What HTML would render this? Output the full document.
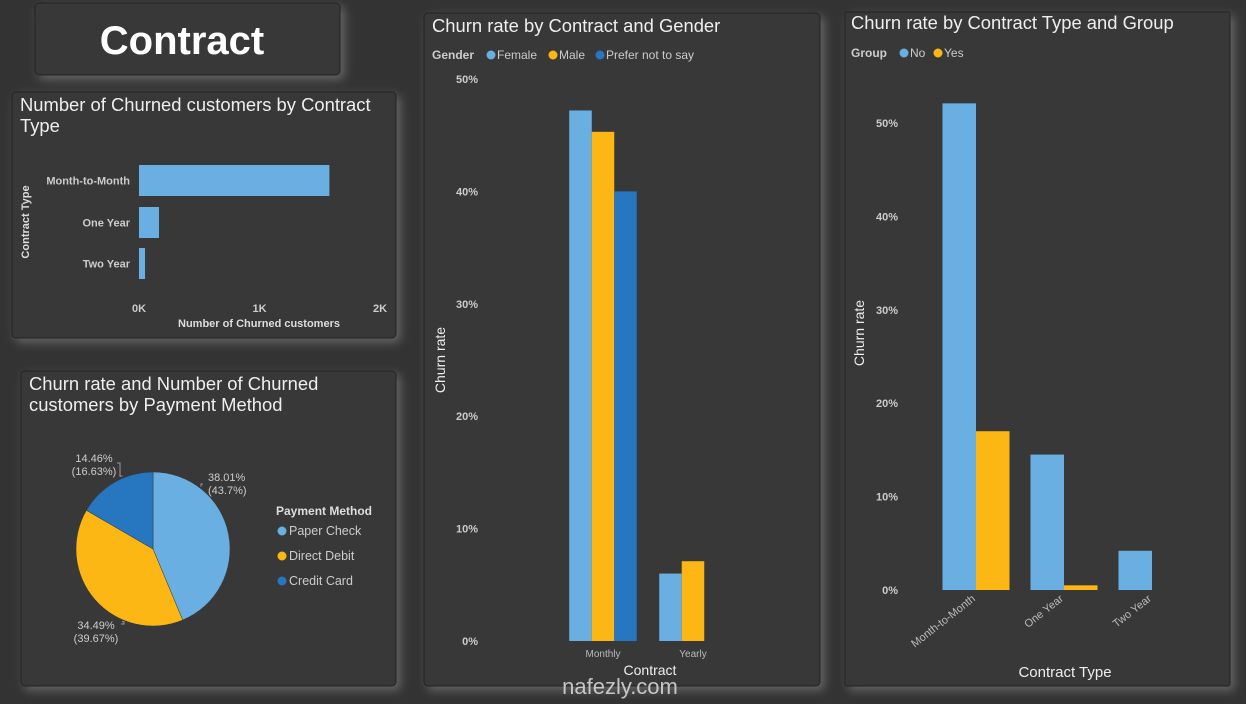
<!DOCTYPE html>
<html><head><meta charset="utf-8"><style>
html,body{margin:0;padding:0;background:#333;}
body{width:1246px;height:699px;overflow:hidden;font-family:"Liberation Sans",sans-serif;}
svg text{font-family:"Liberation Sans",sans-serif;}
</style></head><body>
<svg id="s" width="1246" height="699" xmlns="http://www.w3.org/2000/svg">
<defs>
<filter id="glow" x="-10%" y="-10%" width="120%" height="120%"><feDropShadow dx="4" dy="4" stdDeviation="5" flood-color="#888" flood-opacity="0.6"/></filter>
</defs>
<rect width="1246" height="699" fill="#333"/>
<g filter="url(#glow)">
<rect x="35" y="3" width="305" height="72" rx="4" fill="#373737" stroke="#222"/>
<rect x="12" y="92" width="384" height="246" rx="4" fill="#373737" stroke="#222"/>
<rect x="21" y="371" width="375" height="315" rx="4" fill="#373737" stroke="#222"/>
<rect x="424" y="13" width="396" height="673" rx="4" fill="#373737" stroke="#222"/>
<rect x="845" y="12" width="385" height="674" rx="2" fill="#373737" stroke="#222"/>
</g>
<text x="182" y="54" text-anchor="middle" font-size="40" font-weight="bold" fill="#fff">Contract</text>

<text x="20" y="111" font-size="18.4" fill="#eee">Number of Churned customers by Contract</text>
<text x="20" y="132" font-size="18.4" fill="#eee">Type</text>
<text transform="translate(29,222) rotate(-90)" text-anchor="middle" font-size="11" font-weight="bold" fill="#ddd">Contract Type</text>
<text x="259" y="327" text-anchor="middle" font-size="11" font-weight="bold" fill="#ddd">Number of Churned customers</text>
<g id="hbar"></g>

<text x="29" y="390" font-size="18.4" fill="#eee">Churn rate and Number of Churned</text>
<text x="29" y="411" font-size="18.4" fill="#eee">customers by Payment Method</text>
<g id="pie"></g>
<text x="276" y="515" font-size="12" font-weight="bold" fill="#ddd">Payment Method</text>

<text x="432" y="32" font-size="18.4" fill="#eee">Churn rate by Contract and Gender</text>
<text x="432" y="59" font-size="12" font-weight="bold" fill="#ccc">Gender</text>
<text transform="translate(445,360) rotate(-90)" text-anchor="middle" font-size="14" fill="#eee">Churn rate</text>
<text x="650" y="675" text-anchor="middle" font-size="14" fill="#eee">Contract</text>
<g id="gchart"></g>

<text x="851" y="29" font-size="18.4" fill="#eee">Churn rate by Contract Type and Group</text>
<text x="851" y="57" font-size="12" font-weight="bold" fill="#ccc">Group</text>
<text transform="translate(864,333) rotate(-90)" text-anchor="middle" font-size="14" fill="#eee">Churn rate</text>
<text x="1065" y="677" text-anchor="middle" font-size="15" fill="#eee">Contract Type</text>
<g id="rchart"></g>
<text x="620" y="694" text-anchor="middle" font-size="22" fill="#ddd" opacity="0.85">nafezly.com</text>
</svg>
<script>
// Bar chart data
const contractTypes = ["Month-to-Month","One Year","Two Year"];
const churnedCounts = [1580, 166, 50];
const hTicks = [0, 1000, 2000];
const hTickLabels = ["0K","1K","2K"];
// Pie data
const payMethods = ["Paper Check","Direct Debit","Credit Card"];
const payShare = [43.7, 39.67, 16.63];
const payRate = ["38.01%","34.49%","14.46%"];
// Gender chart
const gCats = ["Monthly","Yearly"];
const genders = ["Female","Male","Prefer not to say"];
const gFemale = [47.2, 6.0];
const gMale = [45.3, 7.1];
const gPrefer = [40.0, 0];
const gTicks = [0,10,20,30,40,50];
// Group chart
const rCats = ["Month-to-Month","One Year","Two Year"];
const groups = ["No","Yes"];
const rNo = [52.1, 14.5, 4.2];
const rYes = [17.0, 0.5, 0];
const rTicks = [0,10,20,30,40,50];

const C = ["#6aafe1","#fdb714","#2676c0"];
const NS="http://www.w3.org/2000/svg";
function el(parent, tag, attrs, txt){const e=document.createElementNS(NS,tag);for(const k in attrs)e.setAttribute(k,attrs[k]);if(txt!==undefined)e.textContent=txt;parent.appendChild(e);return e;}

// horizontal bar
(function(){
  const g=document.getElementById('hbar');
  const x=v=>139+v*(241/2000);
  const rowY=[165,207,248], h=31;
  hTicks.forEach((t,i)=>{const e=el(g,'text',{x:x(t),y:312,'text-anchor':'middle','font-size':11,'font-weight':'bold',fill:'#ccc'},hTickLabels[i]);
    });
  contractTypes.forEach((c,i)=>{
    const cy=rowY[i]+h/2;
    const r=el(g,'rect',{x:x(0),y:rowY[i],width:x(churnedCounts[i])-x(0),height:h,fill:C[0]});
    
    
    const t=el(g,'text',{x:130,y:cy+4,'text-anchor':'end','font-size':11,'font-weight':'bold',fill:'#ccc'},c);
    
    
  });
})();

// pie
(function(){
  const g=document.getElementById('pie');
  const cx=153,cy=549,R=77;
  const total=payShare.reduce((a,b)=>a+b,0);
  let a0=0;
  const lab=[{x:208,y:481,a:'start',end:[203,484]},{x:96,y:629,a:'middle',end:[121,624]},{x:94,y:462,a:'middle',end:[117,463]}];
  payShare.forEach((v,i)=>{
    const a1=a0+v/total*2*Math.PI;
    const p=(a)=>[cx+R*Math.sin(a),cy-R*Math.cos(a)];
    const [x0,y0]=p(a0),[x1,y1]=p(a1);
    const large=(a1-a0)>Math.PI?1:0;
    const s=el(g,'path',{d:`M${cx},${cy}L${x0},${y0}A${R},${R} 0 ${large} 1 ${x1},${y1}Z`,fill:C[i],stroke:'#373737','stroke-width':0.5});
    
    
    const L=lab[i];
    const dx=L.end[0]-cx, dy=L.end[1]-cy, d=Math.hypot(dx,dy);
    const px=cx+dx/d*(R+2), py=cy+dy/d*(R+2);
    const kx=L.end[0]+(L.a==='start'?-2:3);
    const ln=el(g,'polyline',{points:`${px},${py} ${kx},${py} ${kx},${L.end[1]} ${L.end[0]},${L.end[1]}`,fill:'none',stroke:'#999','stroke-width':1});
    
    
    const t=el(g,'text',{x:L.x,y:L.y,'text-anchor':L.a,'font-size':11,fill:'#ccc'},payRate[i]);
    
    
    const t2=el(g,'text',{x:L.x,y:L.y+13,'text-anchor':L.a,'font-size':11,fill:'#ccc'},'('+v+'%)');
    
    
    a0=a1;
    const c=el(g,'circle',{cx:282,cy:531+i*25,r:4.5,fill:C[i]});
    
    
    const lt=el(g,'text',{x:289,y:535+i*25,'font-size':12.5,fill:'#ccc'},payMethods[i]);
    
    
  });
})();

// gender chart
(function(){
  const g=document.getElementById('gchart');
  const y=v=>641-v*11.24;
  const centers=[603,693], bw=22.5;
  gTicks.forEach(t=>{const e=el(g,'text',{x:478,y:y(t)+4,'text-anchor':'end','font-size':11,'font-weight':'bold',fill:'#ccc'},t+'%');
    });
  const series=[gFemale,gMale,gPrefer];
  gCats.forEach((c,ci)=>{
    const start=centers[ci]-1.5*bw;
    series.forEach((s,si)=>{ if(s[ci]<=0) return;
      const r=el(g,'rect',{x:start+si*bw,y:y(s[ci]),width:bw,height:y(0)-y(s[ci]),fill:C[si]});
      
      
    });
    const t=el(g,'text',{x:centers[ci],y:657,'text-anchor':'middle','font-size':10,fill:'#bbb'},c);
    
    
  });
  let lx=486;
  genders.forEach((n,i)=>{
    const c=el(g,'circle',{cx:lx+5,cy:55,r:4.5,fill:C[i]});
    
    
    const t=el(g,'text',{x:lx+11,y:59,'font-size':12,fill:'#ccc'},n);
    
    
    lx+= [62,47,0][i];
  });
})();

// group chart
(function(){
  const g=document.getElementById('rchart');
  const y=v=>590-v*9.34;
  const centers=[976,1064,1152], bw=33.5;
  rTicks.forEach(t=>{const e=el(g,'text',{x:898,y:y(t)+4,'text-anchor':'end','font-size':11,'font-weight':'bold',fill:'#ccc'},t+'%');
    });
  const series=[rNo,rYes];
  rCats.forEach((c,ci)=>{
    series.forEach((s,si)=>{ if(s[ci]<=0) return;
      const r=el(g,'rect',{x:centers[ci]-bw+si*bw,y:y(s[ci]),width:bw,height:y(0)-y(s[ci]),fill:C[si]});
      
      
    });
    const t=el(g,'text',{transform:`translate(${centers[ci]},${600}) rotate(-38)`,'text-anchor':'end','font-size':11,fill:'#bbb'},c);
    
    
  });
  let lx=899;
  groups.forEach((n,i)=>{
    const c=el(g,'circle',{cx:lx+5,cy:53,r:4.5,fill:C[i]});
    
    
    const t=el(g,'text',{x:lx+11,y:57,'font-size':12,fill:'#ccc'},n);
    
    
    lx+=34;
  });
})();
</script>
</body></html>
